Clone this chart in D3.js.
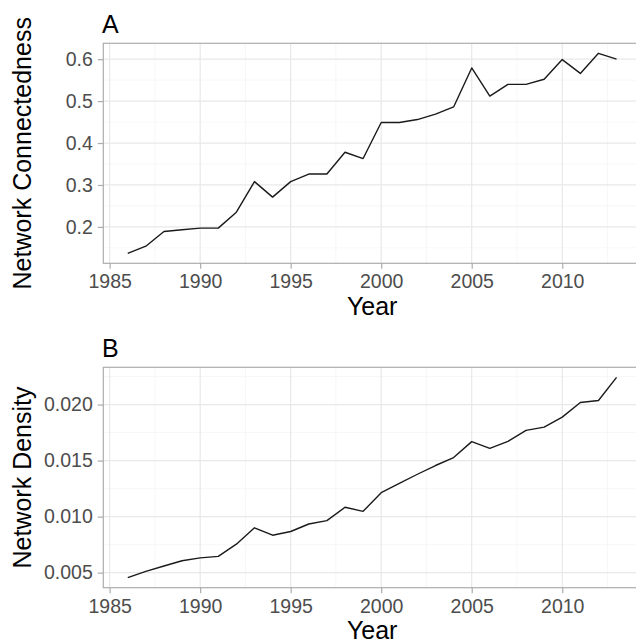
<!DOCTYPE html>
<html>
<head>
<meta charset="utf-8">
<script src="https://cdn.jsdelivr.net/npm/d3@7"></script>
<style>
  html, body { margin: 0; padding: 0; background: #fff; }
  svg { display: block; font-family: "Liberation Sans", Arial, sans-serif; }
</style>
</head>
<body>
<svg id="chart" width="636" height="642"></svg>
<script>
// Values
const years = [1986, 1987, 1988, 1989, 1990, 1991, 1992, 1993, 1994, 1995,
               1996, 1997, 1998, 1999, 2000, 2001, 2002, 2003, 2004, 2005,
               2006, 2007, 2008, 2009, 2010, 2011, 2012, 2013];
const connectedness = [0.137, 0.154, 0.189, 0.193, 0.197, 0.197, 0.235, 0.308, 0.271, 0.308,
                       0.326, 0.326, 0.378, 0.363, 0.449, 0.449, 0.456, 0.469, 0.486, 0.579,
                       0.512, 0.540, 0.540, 0.552, 0.599, 0.566, 0.614, 0.600];
const density = [0.00455, 0.00511, 0.00559, 0.00606, 0.00632, 0.00645, 0.00754, 0.00900, 0.00834, 0.00867,
                 0.00934, 0.00964, 0.01083, 0.01047, 0.01213, 0.01296, 0.01378, 0.01456, 0.01527, 0.01669,
                 0.01609, 0.01671, 0.01769, 0.01799, 0.01888, 0.02018, 0.02036, 0.02243];

const xTicks = [1985, 1990, 1995, 2000, 2005, 2010];
const xMinor = [1987.5, 1992.5, 1997.5, 2002.5, 2007.5, 2012.5];
const connTicks = [0.2, 0.3, 0.4, 0.5, 0.6];
const connMinor = [0.15, 0.25, 0.35, 0.45, 0.55];
const densTicks = [0.005, 0.010, 0.015, 0.020];
const densMinor = [0.0075, 0.0125, 0.0175, 0.0225];

const svg = d3.select("#chart");

// ggplot-style 5% expansion
function expand(ext) {
    const pad = (ext[1] - ext[0]) * 0.05;
    return [ext[0] - pad, ext[1] + pad];
}

const left = 103.3, right = 641;
const x = d3.scaleLinear().domain(expand(d3.extent(years))).range([left, right]);

/**
 * Draw one panel: grid, line, border, axes and labels
 */
function drawPanel(p) {
    const y = d3.scaleLinear().domain(expand(d3.extent(p.values))).range([p.bottom, p.top]);
    const g = svg.append("g");

    // minor grid
    g.selectAll(".vmin").data(xMinor).join("line")
        .attr("x1", d => x(d)).attr("x2", d => x(d))
        .attr("y1", p.top).attr("y2", p.bottom)
        .attr("stroke", "#f3f3f3").attr("stroke-width", 0.7);
    g.selectAll(".hmin").data(p.minor).join("line")
        .attr("x1", left).attr("x2", right)
        .attr("y1", d => y(d)).attr("y2", d => y(d))
        .attr("stroke", "#f3f3f3").attr("stroke-width", 0.7);

    // major grid
    g.selectAll(".vmaj").data(xTicks).join("line")
        .attr("x1", d => x(d)).attr("x2", d => x(d))
        .attr("y1", p.top).attr("y2", p.bottom)
        .attr("stroke", "#e8e8e8").attr("stroke-width", 1.2);
    g.selectAll(".hmaj").data(p.ticks).join("line")
        .attr("x1", left).attr("x2", right)
        .attr("y1", d => y(d)).attr("y2", d => y(d))
        .attr("stroke", "#e8e8e8").attr("stroke-width", 1.2);

    // series line
    const line = d3.line().x((d, i) => x(years[i])).y(d => y(d));
    g.append("path").datum(p.values)
        .attr("d", line)
        .attr("fill", "none")
        .attr("stroke", "#1a1a1a")
        .attr("stroke-width", 1.4)
        .attr("stroke-linejoin", "round");

    // panel border
    g.append("rect")
        .attr("x", left).attr("y", p.top)
        .attr("width", right - left).attr("height", p.bottom - p.top)
        .attr("fill", "none").attr("stroke", "#acacac").attr("stroke-width", 1.2);

    // axes
    const xa = g.append("g").attr("transform", `translate(0,${p.bottom})`)
        .call(d3.axisBottom(x).tickValues(xTicks).tickFormat(d3.format("d")).tickSize(5.5).tickPadding(8));
    const ya = g.append("g").attr("transform", `translate(${left},0)`)
        .call(d3.axisLeft(y).tickValues(p.ticks).tickFormat(d3.format(p.fmt)).tickSize(5.5).tickPadding(5));
    [xa, ya].forEach(a => {
        a.select(".domain").remove();
        a.selectAll(".tick line").attr("stroke", "#acacac").attr("stroke-width", 1.2);
        a.selectAll(".tick text")
            .attr("fill", "#4d4d4d")
            .style("font-size", "19.5px")
            .style("font-family", "'Liberation Sans', Arial, sans-serif");
    });
    xa.selectAll(".tick text").attr("dy", null).attr("y", 25).attr("dominant-baseline", "auto");

    // titles
    g.append("text")
        .attr("x", (left + right) / 2).attr("y", p.bottom + 51.7)
        .attr("text-anchor", "middle")
        .style("font-size", "25px").attr("fill", "#000")
        .text("Year");
    g.append("text")
        .attr("transform", `translate(30.5,${(p.top + p.bottom) / 2}) rotate(-90)`)
        .attr("text-anchor", "middle")
        .style("font-size", "25px").attr("fill", "#000")
        .text(p.title);
    g.append("text")
        .attr("x", 102).attr("y", p.top - 10)
        .style("font-size", "25px").attr("fill", "#000")
        .text(p.tag);
}

drawPanel({
    tag: "A", title: "Network Connectedness",
    values: connectedness, ticks: connTicks, minor: connMinor, fmt: ".1f",
    top: 43.3, bottom: 263.3
});

drawPanel({
    tag: "B", title: "Network Density",
    values: density, ticks: densTicks, minor: densMinor, fmt: ".3f",
    top: 367.3, bottom: 587.7
});
</script>
</body>
</html>
